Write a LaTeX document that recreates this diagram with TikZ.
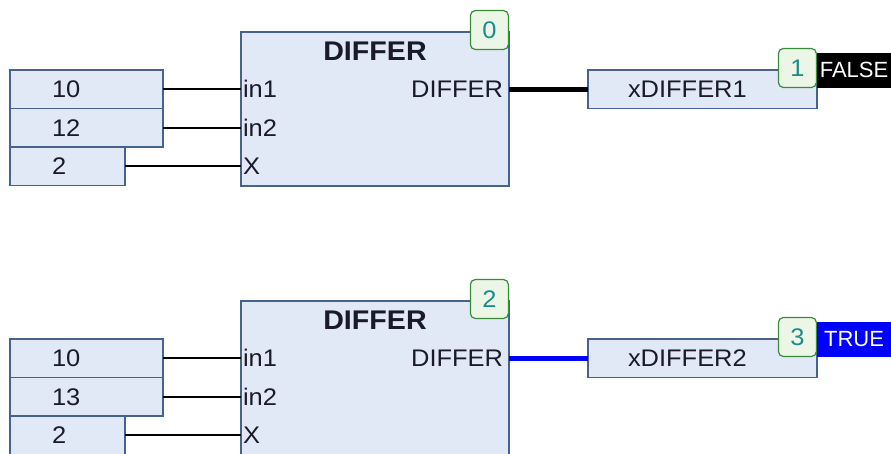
\documentclass[tikz,border=0pt]{standalone}
\usepackage{fontspec}
\setmainfont[FakeStretch=1.06]{Liberation Sans}
\newfontfamily\valfont{Liberation Sans}
\usetikzlibrary{positioning}
\definecolor{boxfill}{HTML}{E1E9F6}
\definecolor{boxline}{HTML}{46638F}
\definecolor{ordfill}{HTML}{EBF6E6}
\definecolor{ordline}{HTML}{3A8C3A}
\definecolor{ordtext}{HTML}{1A8C8C}
\definecolor{txt}{HTML}{1A1A28}

\begin{document}
\begin{tikzpicture}[x = 1pt, y = -1pt]
  \tikzset{
    every node/.style = {font = \fontsize{24}{28}\selectfont, text = txt},
    plcbox/.style = {draw = boxline, fill = boxfill, line width = 1.5pt, inner sep = 0pt, outer sep = 0pt, minimum height = 38.5pt, align = left, anchor = north west},
    fbox/.style = {draw = boxline, fill = boxfill, line width = 1.5pt, outer sep = 0pt, minimum width = 268pt, minimum height = 154pt, anchor = north west},
    pin/.style = {inner sep = 2pt, outer sep = 0pt},
    ordbox/.style = {draw = ordline, fill = ordfill, line width = 1.2pt, rounded corners = 5pt, minimum width = 38pt, minimum height = 39pt, inner sep = 0pt, text = ordtext, anchor = east, yshift = 2pt},
    valbox/.style = {fill = #1, text = white, minimum width = 74pt, minimum height = 35pt, inner sep = 0pt, outer sep = 0pt, anchor = west, font = \valfont\fontsize{22}{26}\selectfont},
    wire/.style = {line width = 1.6pt, black}
  }
  \useasboundingbox (0,0) rectangle (891,453);

  % first DIFFER call, output FALSE
  \node[plcbox, minimum width = 153pt, text width = 69pt] (a1) at (10,70) {10};
  \node[plcbox, minimum width = 153pt, text width = 69pt] (b1) at (a1.south west) {12};
  \node[plcbox, minimum width = 115pt, text width = 31pt] (c1) at (b1.south west) {2};
  \node[fbox] (f1) at (241,32) {};
  \node[font = \bfseries\fontsize{27}{30}\selectfont] (t1) at (375,51.5) {DIFFER};
  \node[pin, anchor = west] (p1a) at (f1.west |- a1) {in1};
  \node[pin, anchor = west] (p1b) at (f1.west |- b1) {in2};
  \node[pin, anchor = west] (p1c) at (f1.west |- c1) {X};
  \node[pin, anchor = east, inner xsep = 6pt] (q1) at (f1.east |- a1) {DIFFER};
  \node[ordbox] (n1) at (f1.north east) {0};
  \node[plcbox, minimum width = 229pt, text width = 149pt] (o1) at (588,70) {xDIFFER1};
  \node[ordbox] (m1) at (o1.north east) {1};
  \node[valbox = black] (v1) at (o1.north east) {FALSE};

  \draw[wire] (a1.east) -- (p1a.west);
  \draw[wire] (b1.east) -- (p1b.west);
  \draw[wire] (c1.east) -- (p1c.west);
  \draw[line width = 5pt, black] (q1.east) -- (o1.west);

  % second DIFFER call, output TRUE
  \begin{scope}[yshift = -269pt]
    \node[plcbox, minimum width = 153pt, text width = 69pt] (a2) at (10,70) {10};
    \node[plcbox, minimum width = 153pt, text width = 69pt] (b2) at (a2.south west) {13};
    \node[plcbox, minimum width = 115pt, text width = 31pt] (c2) at (b2.south west) {2};
    \node[fbox] (f2) at (241,32) {};
    \node[font = \bfseries\fontsize{27}{30}\selectfont] (t2) at (375,51.5) {DIFFER};
    \node[pin, anchor = west] (p2a) at (f2.west |- a2) {in1};
    \node[pin, anchor = west] (p2b) at (f2.west |- b2) {in2};
    \node[pin, anchor = west] (p2c) at (f2.west |- c2) {X};
    \node[pin, anchor = east, inner xsep = 6pt] (q2) at (f2.east |- a2) {DIFFER};
    \node[ordbox] (n2) at (f2.north east) {2};
    \node[plcbox, minimum width = 229pt, text width = 149pt] (o2) at (588,70) {xDIFFER2};
    \node[ordbox] (m2) at (o2.north east) {3};
    \node[valbox = blue] (v2) at (o2.north east) {TRUE};

    \draw[wire] (a2.east) -- (p2a.west);
    \draw[wire] (b2.east) -- (p2b.west);
    \draw[wire] (c2.east) -- (p2c.west);
    \draw[line width = 5pt, blue] (q2.east) -- (o2.west);
  \end{scope}
\end{tikzpicture}
\end{document}
